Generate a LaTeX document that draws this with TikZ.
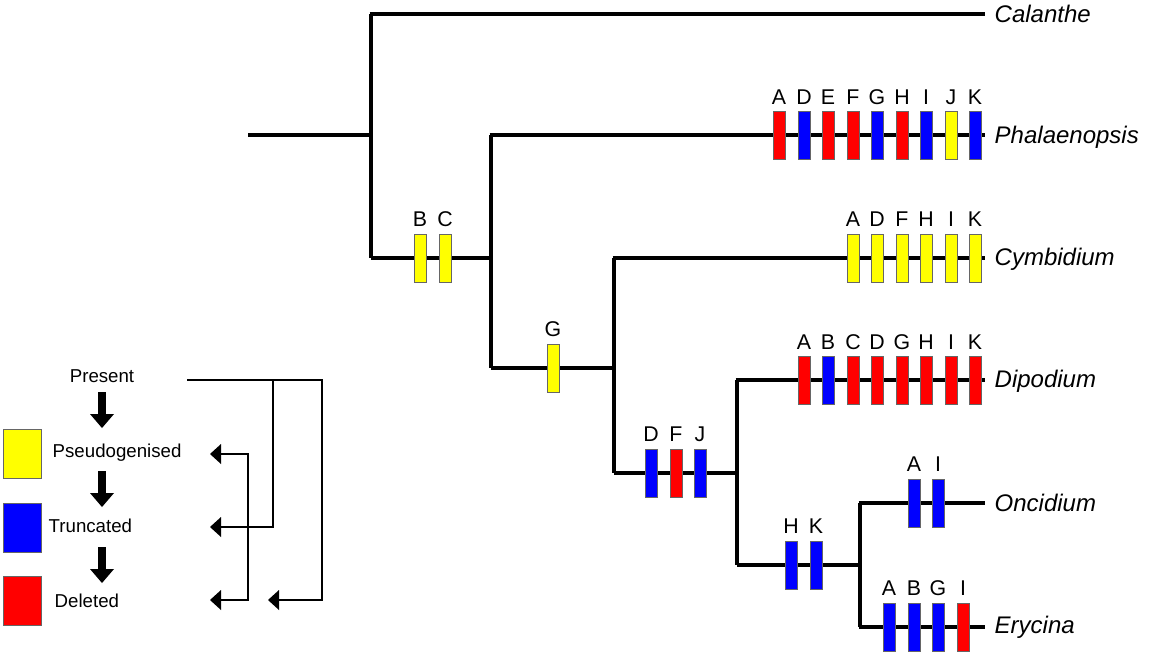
\documentclass[tikz,border=0pt]{standalone}
\usepackage{fontspec}
\setmainfont{Liberation Sans}
\definecolor{cy}{RGB}{255,255,0}
\definecolor{cb}{RGB}{0,0,255}
\definecolor{cr}{RGB}{255,0,0}
\begin{document}
\begin{tikzpicture}[x=0.75pt,y=-0.75pt,
  br/.style={line width=3pt},
  g/.style={draw=black!60,line width=0.4pt,minimum width=9pt,minimum height=36pt,inner sep=0pt},
  Y/.style={g,fill=cy},B/.style={g,fill=cb},R/.style={g,fill=cr},
  lab/.style={font=\fontsize{16}{16}\selectfont,anchor=base},
  sp/.style={font=\fontsize{18}{18}\selectfont\itshape,anchor=west},
  lg/.style={font=\fontsize{14}{14}\selectfont},
  thin/.style={line width=0.8pt},
  tip/.style={fill=black}]
\useasboundingbox (0,0) rectangle (1173,654);
% tree
\coordinate (r0) at (248,135); \coordinate (r1) at (371,135);
\draw[br] (r0)--(r1);
\draw[br] (371,14)--(371,258);
\draw[br] (369.5,14)--(985,14) coordinate (eCal);
\draw[br] (371,258)--(491,258);
\draw[br] (491,135)--(491,368);
\draw[br] (489.5,135)--(985,135);
\draw[br] (491,368)--(614,368);
\draw[br] (614,258)--(614,473);
\draw[br] (612.5,258)--(985,258);
\draw[br] (614,473)--(737,473);
\draw[br] (737,380)--(737,565);
\draw[br] (735.5,380)--(985,380);
\draw[br] (737,565)--(860,565);
\draw[br] (860,503)--(860,627);
\draw[br] (858.5,503)--(985,503);
\draw[br] (858.5,627)--(985,627);
\node[sp] (cal) at (990,14) {Calanthe};
\node[sp] (pha) at (990,137) {Phalaenopsis};
\node[sp] (cym) at (990,259) {Cymbidium};
\node[sp] (dip) at (990,381) {Dipodium};
\node[sp] (onc) at (990,503) {Oncidium};
\node[sp] (ery) at (990,627) {Erycina};
% marker macro
\foreach \x/\s/\l in {779/R/A,804/B/D,828/R/E,853/R/F,877/B/G,902/R/H,926/B/I,951/Y/J,975/B/K}{
  \node[\s] (p\l) at (\x,135) {}; \node[lab] at (\x,104) {\l};}
\foreach \x/\s/\l in {420/Y/B,445/Y/C}{
  \node[\s] (bc\l) at (\x,258) {}; \node[lab] at (\x,226) {\l};}
\foreach \x/\s/\l in {853/Y/A,877/Y/D,902/Y/F,926/Y/H,951/Y/I,975/Y/K}{
  \node[\s] (c\l) at (\x,258) {}; \node[lab] at (\x,226) {\l};}
\node[Y] (gG) at (553,368) {}; \node[lab] at (553,336) {G};
\foreach \x/\s/\l in {804/R/A,828/B/B,853/R/C,877/R/D,902/R/G,926/R/H,951/R/I,975/R/K}{
  \node[\s] (d\l) at (\x,380) {}; \node[lab] at (\x,349) {\l};}
\foreach \x/\s/\l in {651/B/D,676/R/F,700/B/J}{
  \node[\s] (n\l) at (\x,473) {}; \node[lab] at (\x,441) {\l};}
\foreach \x/\s/\l in {914/B/A,938/B/I}{
  \node[\s] (o\l) at (\x,503) {}; \node[lab] at (\x,471) {\l};}
\foreach \x/\s/\l in {791/B/H,816/B/K}{
  \node[\s] (h\l) at (\x,565) {}; \node[lab] at (\x,533) {\l};}
\foreach \x/\s/\l in {889/B/A,914/B/B,938/B/G,963/R/I}{
  \node[\s] (e\l) at (\x,627) {}; \node[lab] at (\x,595) {\l};}
% legend
\node[lg] (pres) at (102,376) {Present};
\node[lg,anchor=west] (pse) at (48,453) {Pseudogenised};
\node[lg,anchor=west] (tru) at (44,526) {Truncated};
\node[lg,anchor=west] (del) at (50,601) {Deleted};
\fill[cy,draw=black!60] (3,429) rectangle (41,478);
\fill[cb,draw=black!60] (3,503) rectangle (41,552);
\fill[cr,draw=black!60] (3,576) rectangle (41,625);
\foreach \y in {392,471,547}{
  \fill (98,\y) rectangle (106,\y+22);
  \fill (90,\y+22)--(114,\y+22)--(102,\y+36)--cycle;}
\coordinate (q1) at (187,380);
\draw[thin] (q1)--(322,380)--(322,600)--(278,600);
\draw[thin] (273,380)--(273,527)--(220,527);
\draw[thin] (220,454)--(248,454)--(248,600)--(220,600);
\foreach \x/\y in {210/454,210/527,210/600,268/600}{
  \fill (\x,\y)--(\x+11,\y-10)--(\x+11,\y+10)--cycle;}
\end{tikzpicture}
\end{document}
